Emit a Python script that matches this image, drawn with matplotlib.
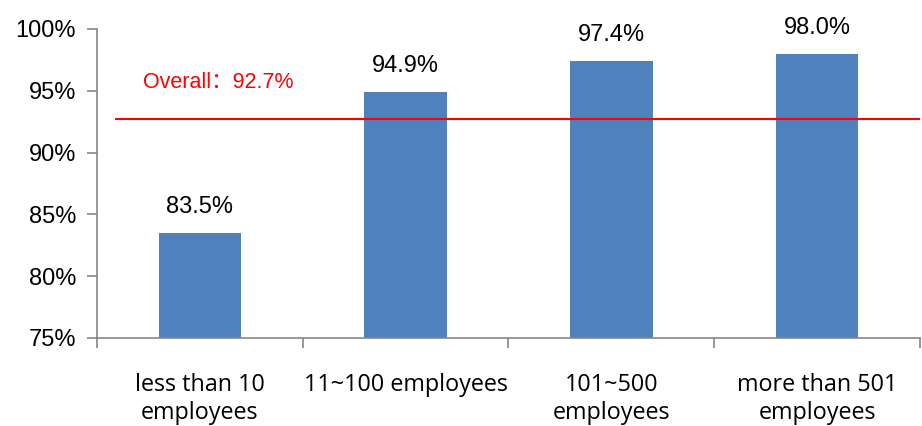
import matplotlib.pyplot as plt
import numpy as np

# data
categories = ['less than 10\nemployees', '11~100 employees', '101~500\nemployees', 'more than 501\nemployees']
values = [83.5, 94.9, 97.4, 98.0]
overall = 92.7
yticks = [75, 80, 85, 90, 95, 100]

bar_color = '#4F81BD'
axis_color = '#868686'

fig = plt.figure(figsize=(9.22, 4.26), dpi=100)
ax = fig.add_axes([0.105, 0.207, 0.893, 0.725])

x = np.arange(len(categories))
ax.bar(x, values, width=0.4, color=bar_color, zorder=2)

# value labels
for xi, v in zip(x, values):
    ax.text(xi, v + 2.1, f'{v:.1f}%', ha='center', va='center',
            fontsize=17, family='Liberation Sans')

# overall line
ax.hlines(overall, -0.41, 3.5, color='red', lw=1.5, zorder=3)
ax.text(-0.275, 95.7, f'Overall：{overall}%', color='red', fontsize=15.5,
        family=['Liberation Sans', 'Noto Sans CJK SC'], va='center', ha='left')

ax.set_xlim(-0.5, 3.5)
ax.set_ylim(75, 100)
ax.set_yticks(yticks)
ax.set_yticklabels([f'{t}%' for t in yticks], fontsize=17, family='Liberation Sans')

# x ticks at category boundaries, labels at centers
ax.set_xticks(np.arange(-0.5, 4.0, 1.0))
ax.set_xticklabels([])
ax.set_xticks(x, minor=True)
ax.set_xticklabels(categories, minor=True, fontsize=16.8, family='Open Sans',
                   linespacing=1.24)
ax.tick_params(axis='x', which='minor', length=0, pad=25)
ax.tick_params(axis='x', which='major', length=7, color=axis_color, width=1.2)
ax.tick_params(axis='y', length=7, color=axis_color, width=1.2, pad=8)

for s in ['top', 'right']:
    ax.spines[s].set_visible(False)
for s in ['left', 'bottom']:
    ax.spines[s].set_color(axis_color)
    ax.spines[s].set_linewidth(1.2)

fig.savefig('out.png', dpi=100)
